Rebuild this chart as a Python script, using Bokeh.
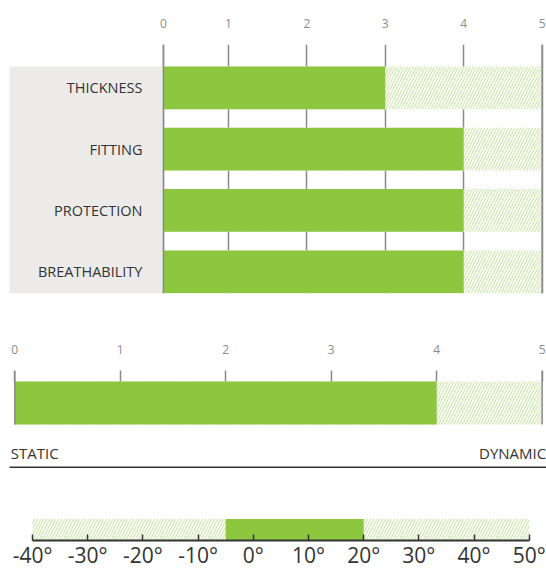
from bokeh.plotting import figure
from bokeh.layouts import column
from bokeh.models import Range1d, FixedTicker, BoxAnnotation, Span, ColumnDataSource
from bokeh.core.properties import value
from bokeh.embed import file_html
from bokeh.resources import INLINE

# ---------------- data ----------------
categories = ["THICKNESS", "FITTING", "PROTECTION", "BREATHABILITY"]
scores = [3, 4, 4, 4]
score_max = 5
score_ticks = [0, 1, 2, 3, 4, 5]
score_tick_labels = ["0", "1", "2", "3", "4", "5"]

style_value = 4            # STATIC (0) ... DYNAMIC (5)
style_labels = ["STATIC", "DYNAMIC"]

temp_min, temp_max = -5, 20
temp_scale = [-40, 50]
temp_ticks = [-40, -30, -20, -10, 0, 10, 20, 30, 40, 50]
temp_tick_labels = ["-40°", "-30°", "-20°", "-10°", "0°", "10°", "20°", "30°", "40°", "50°"]

# ---------------- style ----------------
GREEN = "#8dc63f"
HATCH = "#d3e9b5"
GRID = "#8a8a8a"
PANEL = "#ecebe9"
DARK = "#333333"
TICKLBL = "#8c8c8c"
FONT = value("Open Sans")
W = 546
BASE = 0.17        # visual position of the top chart's zero line
PANEL_LEFT = -1.793
ROW_H = 0.696


def base_fig(height, xr, yr, loc, top, bottom):
    p = figure(width=W, height=height, x_range=xr, y_range=yr,
               x_axis_location=loc, y_axis_location=None,
               toolbar_location=None, output_backend="svg",
               min_border_left=0, min_border_right=0,
               min_border_top=top, min_border_bottom=bottom,
               outline_line_color=None, background_fill_color="white",
               border_fill_color="white")
    p.ygrid.visible = False
    return p


def style_axis(ax, size, color):
    ax.minor_tick_line_color = None
    ax.major_label_text_font = "Open Sans"
    ax.major_label_text_font_size = size
    ax.major_label_text_color = color


# ---------------- chart 1 ----------------
src = ColumnDataSource(dict(y=list(range(len(categories))), cat=categories, score=scores))
n = len(categories)
p1 = base_fig(300, Range1d(-1.908, 5.056), Range1d(n - 1 + 0.354, -0.706), "above", 44, 7)
ticks1 = [BASE] + score_ticks[1:]
p1.xaxis.ticker = FixedTicker(ticks=ticks1)
p1.xaxis.major_label_overrides = {t: l for t, l in zip(ticks1, score_tick_labels)}
p1.xgrid.ticker = FixedTicker(ticks=ticks1)
p1.xgrid.grid_line_color = GRID
p1.xgrid.grid_line_width = 1.5
p1.xaxis.axis_line_color = None
p1.xaxis.major_tick_line_color = None
p1.xaxis.major_tick_out = 0
p1.xaxis.major_tick_in = 0
p1.xaxis.major_label_standoff = 17
style_axis(p1.xaxis, "12px", TICKLBL)

p1.add_layout(BoxAnnotation(left=PANEL_LEFT, right=BASE, top=-ROW_H / 2, bottom=n - 1 + ROW_H / 2,
                            fill_color=PANEL, fill_alpha=1, line_color=None, level="underlay"))
p1.hbar(y="y", left=BASE, right=score_max, height=ROW_H, source=src,
        fill_color="white", line_color=None, hatch_pattern="right_diagonal_line",
        hatch_color=HATCH, hatch_scale=6, hatch_weight=1.3)
p1.hbar(y="y", left=BASE, right="score", height=ROW_H, source=src,
        fill_color=GREEN, line_color=None)
for loc in (BASE, score_max):
    p1.add_layout(Span(location=loc, dimension="height", line_color=GRID,
                       line_width=1.5, level="overlay"))
p1.text(x=BASE, y="y", text="cat", source=src, x_offset=-21,
        text_align="right", text_baseline="middle", text_font=FONT,
        text_font_size="14.5px", text_color=DARK)

# ---------------- chart 2 ----------------
y_top2 = 0.756
p2 = base_fig(175, Range1d(-0.1356, 5.041), Range1d(-1.57, y_top2), "above", 70, 5)
p2.xaxis.ticker = FixedTicker(ticks=score_ticks)
p2.xaxis.major_label_overrides = {t: l for t, l in zip(score_ticks, score_tick_labels)}
p2.xgrid.visible = False
p2.xaxis.axis_line_color = None
p2.xaxis.major_tick_line_color = GRID
p2.xaxis.major_tick_line_width = 1.5
p2.xaxis.major_tick_out = 0
p2.xaxis.major_tick_in = 11
p2.xaxis.major_label_standoff = 17
style_axis(p2.xaxis, "12px", TICKLBL)

p2.hbar(y=[0], left=score_ticks[0], right=score_max, height=1,
        fill_color="white", line_color=None, hatch_pattern="right_diagonal_line",
        hatch_color=HATCH, hatch_scale=6, hatch_weight=1.3)
p2.hbar(y=[0], left=score_ticks[0], right=[style_value], height=1,
        fill_color=GREEN, line_color=None)
p2.segment(x0=[score_ticks[0], score_max], y0=-0.5, x1=[score_ticks[0], score_max], y1=y_top2,
           line_color=GRID, line_width=1.5)
p2.text(x=[score_ticks[0], score_max], y=-1.174, text=style_labels,
        x_offset=[-4, 4], text_align=["left", "right"], text_baseline="middle",
        text_font=FONT, text_font_size="15px", text_color=DARK)
p2.segment(x0=[-0.05], y0=[-1.493], x1=[5.041], y1=[-1.493], line_color=DARK, line_width=1.5)

# ---------------- chart 3 ----------------
p3 = base_fig(96, Range1d(-45.80, 53.13), Range1d(0, 1.63), "below", 30, 29)
p3.xaxis.ticker = FixedTicker(ticks=temp_ticks)
p3.xaxis.major_label_overrides = {t: l for t, l in zip(temp_ticks, temp_tick_labels)}
p3.xaxis.bounds = tuple(temp_scale)
p3.xgrid.visible = False
p3.xaxis.axis_line_color = DARK
p3.xaxis.axis_line_width = 2
p3.xaxis.major_tick_line_color = DARK
p3.xaxis.major_tick_line_width = 1.5
p3.xaxis.major_tick_out = 0
p3.xaxis.major_tick_in = 6
p3.xaxis.major_label_standoff = 0
style_axis(p3.xaxis, "21px", DARK)

p3.hbar(y=[0.5], left=temp_scale[0], right=temp_scale[1], height=1,
        fill_color="white", line_color=None, hatch_pattern="right_diagonal_line",
        hatch_color=HATCH, hatch_scale=6, hatch_weight=1.3)
p3.hbar(y=[0.5], left=[temp_min], right=[temp_max], height=1,
        fill_color=GREEN, line_color=None)

layout = column(p1, p2, p3, spacing=0)
open("out.html", "w").write(file_html(layout, INLINE))
